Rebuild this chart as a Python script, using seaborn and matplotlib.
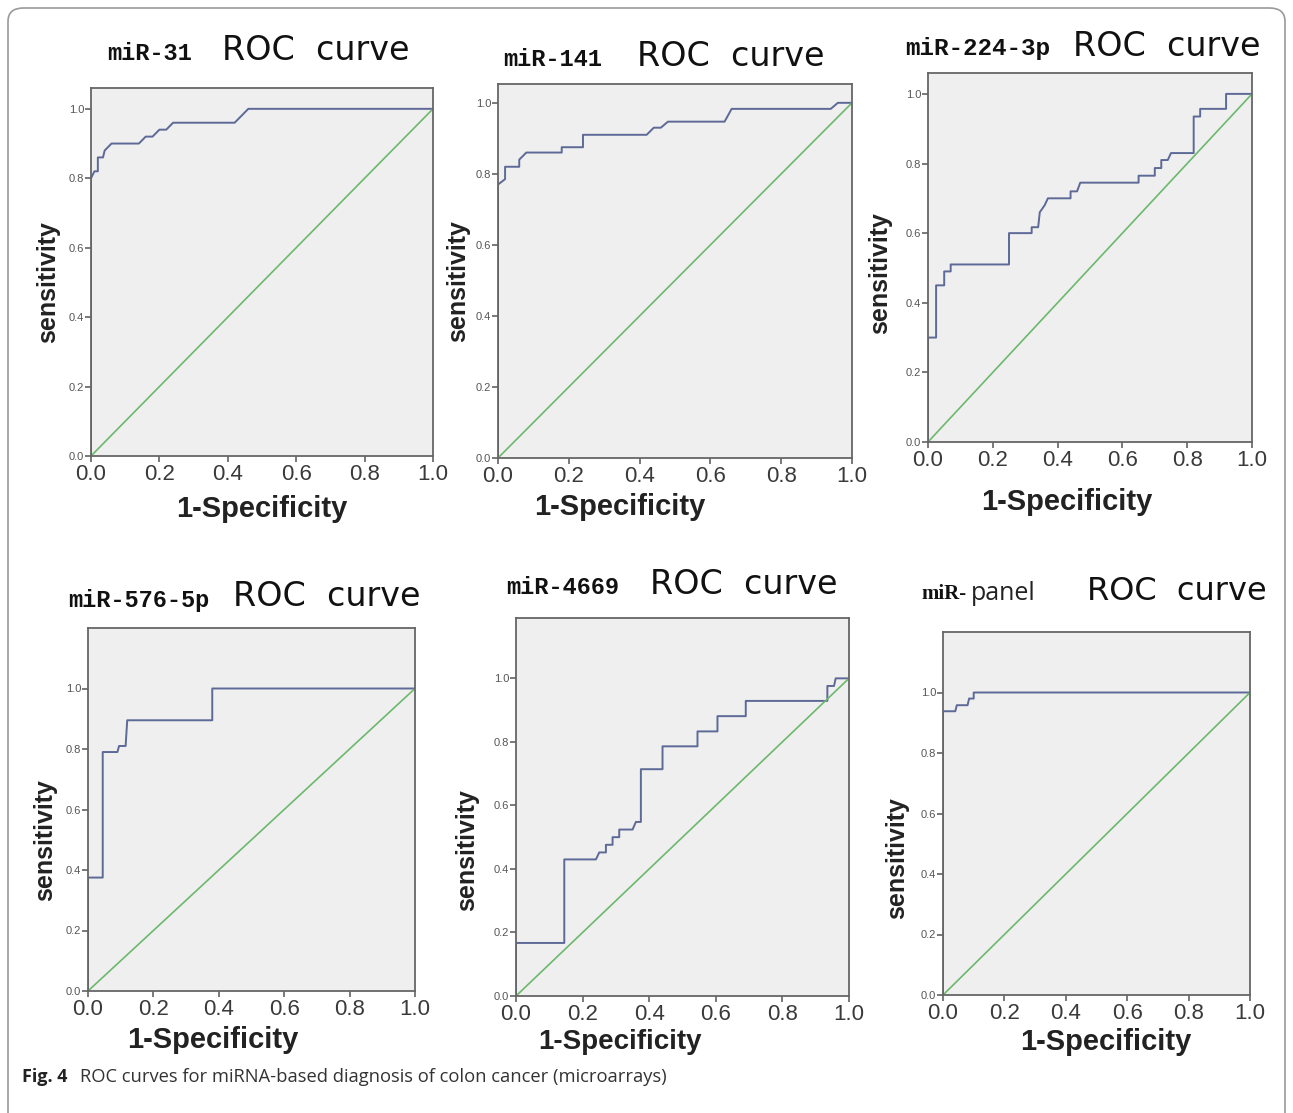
import matplotlib
matplotlib.use("Agg")
import matplotlib.pyplot as plt
import pandas as pd
import seaborn as sns
from matplotlib.patches import FancyBboxPatch

sns.set_theme(style="ticks")
plt.rcParams['font.family'] = ['Liberation Sans', 'DejaVu Sans']

# ROC operating points (1-specificity, sensitivity) for each marker
mir31_fpr = [0.0, 0.0, 0.01, 0.02, 0.02, 0.035, 0.04, 0.06, 0.14, 0.16, 0.18, 0.20, 0.22, 0.24, 0.42, 0.46, 1.0]
mir31_tpr = [0.0, 0.80, 0.82, 0.82, 0.86, 0.86, 0.88, 0.90, 0.90, 0.92, 0.92, 0.94, 0.94, 0.96, 0.96, 1.0, 1.0]

mir141_fpr = [0.0, 0.0, 0.02, 0.02, 0.06, 0.06, 0.08, 0.18, 0.18, 0.24, 0.24, 0.42, 0.44, 0.46, 0.48, 0.64, 0.66, 0.94, 0.96, 1.0]
mir141_tpr = [0.0, 0.77, 0.785, 0.82, 0.82, 0.84, 0.86, 0.86, 0.875, 0.875, 0.91, 0.91, 0.93, 0.93, 0.947, 0.947, 0.983, 0.983, 1.0, 1.0]

mir224_fpr = [0.0, 0.0, 0.025, 0.025, 0.05, 0.05, 0.07, 0.07, 0.25, 0.25, 0.32, 0.32, 0.34, 0.345, 0.36, 0.37,
              0.44, 0.44, 0.46, 0.47, 0.65, 0.65, 0.70, 0.70, 0.72, 0.72, 0.74, 0.75, 0.82, 0.82, 0.84, 0.84,
              0.92, 0.92, 1.0]
mir224_tpr = [0.0, 0.30, 0.30, 0.45, 0.45, 0.49, 0.49, 0.51, 0.51, 0.60, 0.60, 0.617, 0.617, 0.66, 0.68, 0.70,
              0.70, 0.72, 0.72, 0.745, 0.745, 0.765, 0.765, 0.787, 0.787, 0.81, 0.81, 0.83, 0.83, 0.935, 0.935, 0.957,
              0.957, 1.0, 1.0]

mir576_fpr = [0.0, 0.0, 0.045, 0.045, 0.09, 0.095, 0.115, 0.12, 0.38, 0.38, 1.0]
mir576_tpr = [0.0, 0.375, 0.375, 0.79, 0.79, 0.81, 0.81, 0.895, 0.895, 1.0, 1.0]

mir4669_fpr = [0.0, 0.0, 0.145, 0.145, 0.24, 0.25, 0.27, 0.27, 0.29, 0.29, 0.31, 0.31, 0.35, 0.36, 0.375, 0.375,
               0.44, 0.44, 0.545, 0.545, 0.605, 0.605, 0.69, 0.69, 0.935, 0.935, 0.955, 0.96, 1.0]
mir4669_tpr = [0.0, 0.167, 0.167, 0.43, 0.43, 0.452, 0.452, 0.476, 0.476, 0.50, 0.50, 0.524, 0.524, 0.548, 0.548, 0.714,
               0.714, 0.786, 0.786, 0.833, 0.833, 0.881, 0.881, 0.929, 0.929, 0.976, 0.976, 1.0, 1.0]

panel_fpr = [0.0, 0.0, 0.04, 0.045, 0.08, 0.085, 0.10, 0.10, 1.0]
panel_tpr = [0.0, 0.938, 0.938, 0.958, 0.958, 0.98, 0.98, 1.0, 1.0]

reference_line = [0.0, 1.0]

marker_names = ["miR-31", "miR-141", "miR-224-3p", "miR-576-5p", "miR-4669", "miR-"]
tick_values = [0.0, 0.2, 0.4, 0.6, 0.8, 1.0]
tick_labels = ["0.0", "0.2", "0.4", "0.6", "0.8", "1.0"]

curves = {
    "miR-31": (mir31_fpr, mir31_tpr),
    "miR-141": (mir141_fpr, mir141_tpr),
    "miR-224-3p": (mir224_fpr, mir224_tpr),
    "miR-576-5p": (mir576_fpr, mir576_tpr),
    "miR-4669": (mir4669_fpr, mir4669_tpr),
    "miR-": (panel_fpr, panel_tpr),
}
roc = pd.concat(
    [pd.DataFrame({"marker": k, "fpr": v[0], "tpr": v[1]}) for k, v in curves.items()],
    ignore_index=True,
)
diag = pd.DataFrame({"fpr": reference_line, "tpr": reference_line})

W, H = 1293, 1113
fig = plt.figure(figsize=(W / 100, H / 100), dpi=100)
fig.patch.set_facecolor("white")

# outer frame of the figure box
frame = FancyBboxPatch((8 / W, -0.02), (1285 - 8) / W, (H - 8) / H + 0.02,
                       boxstyle="round,pad=0,rounding_size=0.012",
                       transform=fig.transFigure, fill=False,
                       edgecolor="#9a9a9a", linewidth=1.2)
fig.patches.append(frame)

# pixel layout: (left, right, top, bottom, ylim_top)
boxes = [
    (91, 433, 88, 456, 1.06),
    (498, 852, 84, 458, 1.053),
    (928, 1252, 73, 442, 1.06),
    (88, 415, 628, 991, 1.2),
    (516, 849, 618, 996, 1.19),
    (943, 1250, 632, 995, 1.2),
]
# title pieces: (marker text x, marker y, marker size, ROC x, ROC y, ROC size)
titles = [
    (107, 54, 17, 222, 50, 24),
    (503, 59, 17, 637, 56, 24),
    (905, 49, 17.5, 1073, 46, 24),
    (68, 600, 17, 233, 597, 24),
    (506, 587, 17, 650, 584, 24),
    (921, 594, 15, 1087, 591, 23),
]
xlabel_pos = [(262, 509), (620, 507), (1067, 502), (213, 1040), (620, 1042), (1106, 1042)]
ylabel_pos = [(48, 282), (458, 281), (880, 273), (45, 840), (467, 850), (897, 858)]
xlabel_size = [21, 21, 21, 21, 20, 21]

curve_color = "#5d6996"
diag_color = "#6cb86c"

for i, name in enumerate(marker_names):
    l, r, t, b, ytop = boxes[i]
    ax = fig.add_axes([l / W, (H - b) / H, (r - l) / W, (b - t) / H])
    ax.set_facecolor("#efefef")
    sns.lineplot(data=roc[roc["marker"] == name], x="fpr", y="tpr", sort=False,
                 estimator=None, color=curve_color, linewidth=1.4, ax=ax)
    sns.lineplot(data=diag, x="fpr", y="tpr", sort=False, estimator=None,
                 color=diag_color, linewidth=1.2, ax=ax)
    ax.set_xlim(0, 1.0)
    ax.set_ylim(0, ytop)
    ax.set_xticks(tick_values)
    ax.set_xticklabels(tick_labels, fontsize=16, color="#3a3a3a")
    ax.set_yticks(tick_values)
    ax.set_yticklabels(tick_labels, fontsize=8, color="#555555")
    ax.tick_params(axis="both", direction="out", length=4, width=1.1, color="#555555",
                   bottom=True, left=True, top=False, right=False)
    ax.tick_params(axis="x", pad=2)
    ax.tick_params(axis="y", pad=1)
    for s in ax.spines.values():
        s.set_visible(True)
        s.set_color("#666666")
        s.set_linewidth(1.3)

    xl, yl = xlabel_pos[i]
    ax.set_xlabel("1-Specificity", fontsize=xlabel_size[i], fontweight="bold", color="#222222")
    ax.xaxis.set_label_coords((xl - l) / (r - l), (b - yl) / (b - t), transform=ax.transAxes)
    ax.xaxis.label.set_va("center")
    yx, yy = ylabel_pos[i]
    ax.set_ylabel("sensitivity", fontsize=18, fontweight="bold", color="#222222")
    ax.yaxis.set_label_coords((yx - l) / (r - l), (b - yy) / (b - t), transform=ax.transAxes)
    ax.yaxis.label.set_va("center")

    mx, my, ms, rx, ry, rs = titles[i]
    if name == "miR-":
        fig.text(mx / W, 1 - my / H, name, fontsize=ms, fontweight="bold",
                 family=["Liberation Serif", "DejaVu Serif"], ha="left", va="center", color="#111111")
        fig.text((mx + 50) / W, 1 - my / H, "panel", fontsize=18, family=["Open Sans", "DejaVu Sans"],
                 ha="left", va="center", color="#222222")
    else:
        fig.text(mx / W, 1 - my / H, name, fontsize=ms, fontweight="bold",
                 family=["Liberation Mono", "DejaVu Sans Mono"], ha="left", va="center", color="#111111")
    fig.text(rx / W, 1 - ry / H, "ROC  curve", fontsize=rs, family=["DejaVu Sans"],
             ha="left", va="center", color="#111111")

# caption
fig.text(22 / W, 1 - 1077 / H, "Fig. 4", fontsize=13, fontweight="bold",
         family=["Open Sans", "DejaVu Sans"], ha="left", va="center", color="#222222")
fig.text(80 / W, 1 - 1077 / H, "ROC curves for miRNA-based diagnosis of colon cancer (microarrays)",
         fontsize=13.2, family=["Open Sans", "DejaVu Sans"], ha="left", va="center", color="#333333")

fig.savefig("out.png", dpi=100, facecolor="white")
